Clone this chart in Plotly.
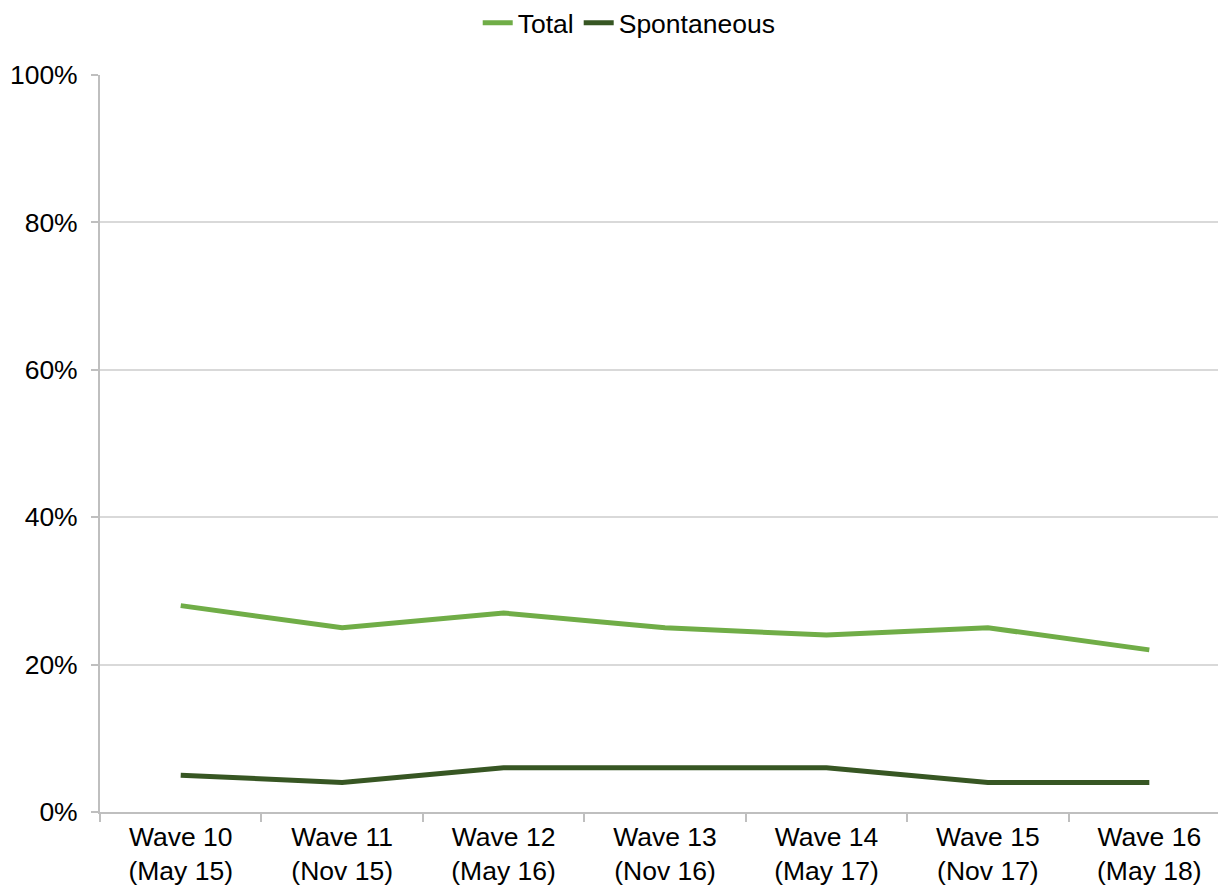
import plotly.graph_objects as go

categories = ["Wave 10<br>(May 15)", "Wave 11<br>(Nov 15)", "Wave 12<br>(May 16)",
              "Wave 13<br>(Nov 16)", "Wave 14<br>(May 17)", "Wave 15<br>(Nov 17)",
              "Wave 16<br>(May 18)"]
total = [28, 25, 27, 25, 24, 25, 22]
spontaneous = [5, 4, 6, 6, 6, 4, 4]

FONT = "Liberation Sans, Arial, sans-serif"
FS = 26.5

fig = go.Figure()
fig.add_trace(go.Scatter(x=categories, y=total, name="Total", mode="lines",
                         line=dict(color="#70ad47", width=5)))
fig.add_trace(go.Scatter(x=categories, y=spontaneous, name="Spontaneous", mode="lines",
                         line=dict(color="#375623", width=5)))

fig.update_layout(
    width=1226, height=890,
    margin=dict(l=92, r=8, t=67, b=86),
    paper_bgcolor="white", plot_bgcolor="white",
    font=dict(family=FONT, size=FS, color="black"),
    legend=dict(orientation="h", x=0.47, xanchor="center", y=0.983, yanchor="middle",
                yref="container", font=dict(size=FS), itemwidth=30),
    showlegend=True,
)
fig.update_xaxes(type="category", range=[-0.5, 6.475], showline=True, linecolor="#bfbfbf",
                 linewidth=2, ticks="outside", tickson="boundaries", ticklen=8,
                 tickcolor="#bfbfbf", tickwidth=2, showgrid=False, automargin=False,
                 tickfont=dict(size=FS))
fig.update_yaxes(range=[0, 100], dtick=20, ticksuffix="%", showline=True,
                 linecolor="#bfbfbf", linewidth=2, ticks="outside", ticklen=7,
                 tickcolor="#bfbfbf", tickwidth=2, showgrid=True, gridcolor="#d9d9d9",
                 gridwidth=2, zeroline=False, automargin=False, tickfont=dict(size=FS),
                 ticklabelstandoff=8)

fig.write_html("out.html")
